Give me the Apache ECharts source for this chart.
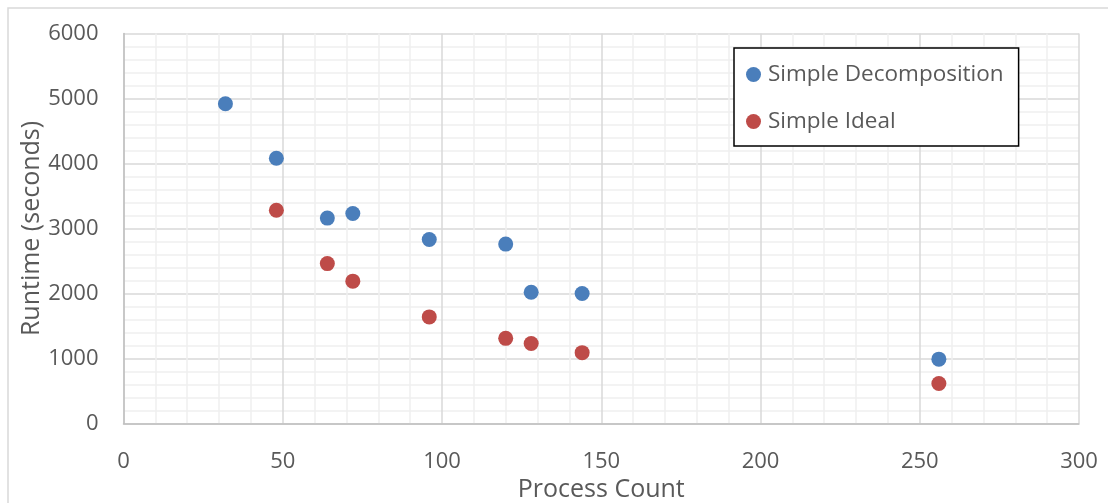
<!DOCTYPE html>
<html>
<head>
<meta charset="utf-8">
<script src="https://cdn.jsdelivr.net/npm/echarts@6/dist/echarts.min.js"></script>
<style>
  html, body { margin: 0; padding: 0; background: #ffffff; }
  #chart { width: 1108px; height: 503px; }
</style>
</head>
<body>
<div id="chart"></div>
<script>
// Process counts and runtimes (seconds)
const decompProcs = [32, 48, 64, 72, 96, 120, 128, 144, 256];
const decompRuntime = [4920, 4080, 3160, 3230, 2830, 2760, 2020, 2000, 990];
const idealProcs = [48, 64, 72, 96, 120, 128, 144, 256];
const idealRuntime = [3280, 2460, 2190, 1640, 1310, 1230, 1090, 615];

const xTicks = { min: 0, max: 300, interval: 50 };
const yTicks = { min: 0, max: 6000, interval: 1000 };

const pair = (xs, ys) => xs.map((x, i) => [x, ys[i]]);

const textColor = '#595959';
const fontFamily = '"Open Sans", "Noto Sans", sans-serif';

const chart = echarts.init(document.getElementById('chart'), null, { renderer: 'canvas' });
chart.setOption({
  backgroundColor: '#ffffff',
  animation: false,
  textStyle: { fontFamily: fontFamily },
  graphic: [{
    type: 'rect',
    shape: { x: 8, y: 8, width: 1200, height: 600 },
    style: { fill: 'none', stroke: '#d9d9d9', lineWidth: 1.5 },
    silent: true,
    z: -10
  }],
  grid: { left: 123.5, top: 33.5, right: 29, bottom: 79.5, containLabel: false, outerBoundsMode: 'none' },
  legend: {
    orient: 'vertical',
    left: 734,
    top: 48,
    padding: [15, 15, 13, 12],
    itemGap: 24,
    itemWidth: 15,
    itemHeight: 15,
    icon: 'circle',
    backgroundColor: '#ffffff',
    borderColor: '#000000',
    borderWidth: 1.5,
    borderRadius: 0,
    textStyle: { color: textColor, fontSize: 22.5, fontFamily: fontFamily, padding: [0, 0, 0, 2] },
    data: ['Simple Decomposition', 'Simple Ideal']
  },
  xAxis: {
    type: 'value',
    min: xTicks.min, max: xTicks.max, interval: xTicks.interval,
    name: 'Process Count',
    nameLocation: 'middle',
    nameGap: 54,
    nameMoveOverlap: false,
    nameTextStyle: { color: textColor, fontSize: 25, fontFamily: fontFamily },
    axisLine: { show: true, lineStyle: { color: '#bfbfbf', width: 1.5 } },
    axisTick: { show: false },
    axisLabel: { color: textColor, fontSize: 22, margin: 27, fontFamily: fontFamily },
    splitLine: { show: true, lineStyle: { color: '#d9d9d9', width: 1.5 } },
    minorTick: { show: false, splitNumber: 5 },
    minorSplitLine: { show: true, lineStyle: { color: '#f0f0f0', width: 1.5 } }
  },
  yAxis: {
    type: 'value',
    min: yTicks.min, max: yTicks.max, interval: yTicks.interval,
    name: 'Runtime (seconds)',
    nameLocation: 'middle',
    nameGap: 79,
    nameMoveOverlap: false,
    nameTextStyle: { color: textColor, fontSize: 25, fontFamily: fontFamily },
    axisLine: { show: true, lineStyle: { color: '#bfbfbf', width: 1.5 } },
    axisTick: { show: false },
    axisLabel: { color: textColor, fontSize: 22, margin: 25, fontFamily: fontFamily, padding: [4, 0, 0, 0], formatter: v => String(v) },
    splitLine: { show: true, lineStyle: { color: '#d9d9d9', width: 1.5 } },
    minorTick: { show: false, splitNumber: 5 },
    minorSplitLine: { show: true, lineStyle: { color: '#f0f0f0', width: 1.5 } }
  },
  series: [
    {
      name: 'Simple Decomposition',
      type: 'scatter',
      symbol: 'circle',
      symbolSize: 15,
      itemStyle: { color: '#4a7ebb', opacity: 1 },
      data: pair(decompProcs, decompRuntime)
    },
    {
      name: 'Simple Ideal',
      type: 'scatter',
      symbol: 'circle',
      symbolSize: 15,
      itemStyle: { color: '#be4b48', opacity: 1 },
      data: pair(idealProcs, idealRuntime)
    }
  ]
});
</script>
</body>
</html>
